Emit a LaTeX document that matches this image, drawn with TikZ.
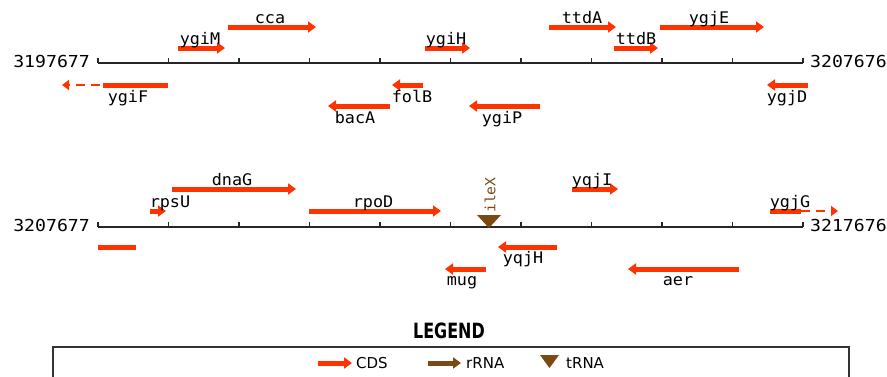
\documentclass[tikz,border=0pt]{standalone}
\usepackage{fontspec}
\usetikzlibrary{arrows.meta}
\newfontfamily\lblfont[FakeStretch=1.05]{DejaVu Sans Mono}
\newfontfamily\posfont[FakeStretch=1.1]{DejaVu Sans Mono}
\newfontfamily\legfont{DejaVu Sans}
\newfontfamily\legheadfont[FakeStretch=0.76]{DejaVu Sans Bold}
\definecolor{cdsred}{RGB}{255,51,0}
\definecolor{rnabrown}{RGB}{122,74,20}

\begin{document}
\begin{tikzpicture}[x=1pt,y=-1pt,
  cds/.style={draw=cdsred, line width=5pt, -{Triangle[length=8pt,width=11pt]}},
  cdsbar/.style={draw=cdsred, line width=5pt},
  cont/.style={draw=cdsred, line width=2pt, dash pattern=on 9pt off 6pt, -{Triangle[length=7pt,width=10pt]}},
  rrna/.style={draw=rnabrown, line width=5pt, -{Triangle[length=8pt,width=11pt]}},
  gname/.style={font=\lblfont\fontsize{16}{16}\selectfont, anchor=base, inner sep=0pt},
  poslbl/.style={font=\posfont\fontsize{16.5}{16.5}\selectfont, inner sep=0pt},
  axisline/.style={line width=1.3pt, black!85},
  legtext/.style={font=\legfont\fontsize{15}{15}\selectfont, anchor=west, inner sep=0pt}]

\useasboundingbox (0,0) rectangle (887,376);
\fill[white] (0,0) rectangle (887,376);

% ---------- first segment: 3197677 .. 3207676 ----------
\draw[axisline] (98,63) -- (803,63);
\foreach \i in {0,...,10} \draw[axisline] (98+70.5*\i,63) -- ++(0,-5);
\node[poslbl, anchor=base east] (s1a) at (90,67) {3197677};
\node[poslbl, anchor=base west] (s1b) at (810,67) {3207676};

% forward genes
\draw[cds] (228,27) -- (316,27);  \node[gname] (cca)  at (270,23) {cca};
\draw[cds] (178,48) -- (225,48);  \node[gname] (ygiM) at (200,44) {ygiM};
\draw[cds] (425,48) -- (470,48);  \node[gname] (ygiH) at (446,44) {ygiH};
\draw[cds] (549,27) -- (616,27);  \node[gname] (ttdA) at (582,23) {ttdA};
\draw[cds] (614,48) -- (658,48);  \node[gname] (ttdB) at (636,44) {ttdB};
\draw[cds] (660,27) -- (764,27);  \node[gname] (ygjE) at (709,23) {ygjE};

% reverse genes
\draw[cdsbar] (168,85) -- (103,85);
\draw[cont] (100,85) -- (62,85);  \node[gname] (ygiF) at (128,102) {ygiF};
\draw[cds] (423,85) -- (392,85);  \node[gname] (folB) at (412,102) {folB};
\draw[cds] (808,85) -- (767,85);  \node[gname] (ygjD) at (787,102) {ygjD};
\draw[cds] (390,106) -- (328,106); \node[gname] (bacA) at (355,123) {bacA};
\draw[cds] (540,106) -- (469,106); \node[gname] (ygiP) at (502,123) {ygiP};

% ---------- second segment: 3207677 .. 3217676 ----------
\draw[axisline] (98,227) -- (803,227);
\foreach \i in {0,...,10} \draw[axisline] (98+70.5*\i,227) -- ++(0,-5);
\node[poslbl, anchor=base east] (s2a) at (90,231) {3207677};
\node[poslbl, anchor=base west] (s2b) at (810,231) {3217676};

% forward genes
\draw[cds] (172,189) -- (296,189); \node[gname] (dnaG) at (232,185) {dnaG};
\draw[cds] (150,211) -- (166,211); \node[gname] (rpsU) at (170,207) {rpsU};
\draw[cds] (309,211) -- (441,211); \node[gname] (rpoD) at (373,207) {rpoD};
\draw[cds] (572,189) -- (618,189); \node[gname] (yqjI) at (592,185) {yqjI};
\draw[cdsbar] (770,211) -- (801,211);
\draw[cont] (801,211) -- (838,211); \node[gname] (ygjG) at (790,207) {ygjG};

% tRNA
\fill[rnabrown] (477,215) -- (501,215) -- (489,228) -- cycle;
\node[font=\lblfont\fontsize{14}{14}\selectfont, text=rnabrown, rotate=90, inner sep=0pt] (ileX) at (490,195) {ileX};

% reverse genes
\draw[cdsbar] (98,247) -- (136,247);
\draw[cds] (557,247) -- (498,247); \node[gname] (yqjH) at (523,263) {yqjH};
\draw[cds] (486,269) -- (445,269); \node[gname] (mug)  at (462,285) {mug};
\draw[cds] (739,269) -- (628,269); \node[gname] (aer)  at (678,285) {aer};

% ---------- legend ----------
\node[font=\legheadfont\fontsize{21}{21}\selectfont, inner sep=0pt] (legend) at (449,331) {LEGEND};
\draw[line width=1.5pt, black!80] (53,377) -- (53,347) -- (849,347) -- (849,377);
\draw[cds] (318,363) -- (352,363);
\node[legtext] (lcds) at (356,363) {CDS};
\draw[rrna] (428,363) -- (461,363);
\node[legtext] (lrrna) at (466,363) {rRNA};
\fill[rnabrown] (540,355) -- (559,355) -- (549.5,368) -- cycle;
\node[legtext] (ltrna) at (566,363) {tRNA};
\end{tikzpicture}
\end{document}
